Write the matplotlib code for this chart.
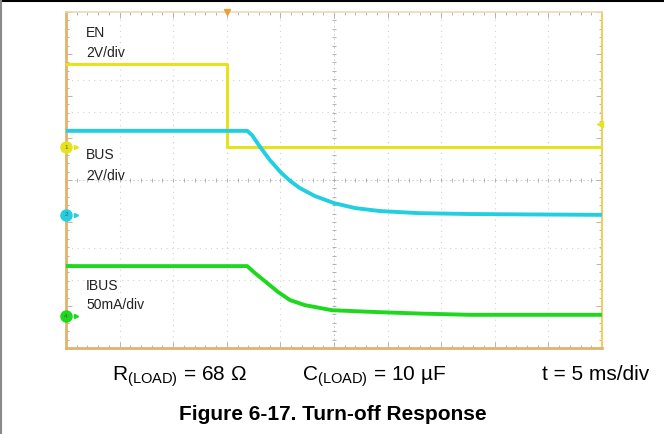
import numpy as np
import matplotlib
matplotlib.use("Agg")
import matplotlib.pyplot as plt
from matplotlib.lines import Line2D

plt.rcParams['font.family'] = ['Liberation Sans', 'DejaVu Sans']
plt.rcParams['mathtext.fontset'] = 'custom'
plt.rcParams['mathtext.rm'] = 'Liberation Sans'

#########################################################################
# data (time in ms, level in divisions, 0 = centre)

en_t = [0.0, 15.0, 15.0, 50.0]
en_v = [2.76, 2.76, 0.78, 0.78]

bus_t = [0.0, 16.9, 17.35, 18.1, 19.0, 20.0, 20.9, 21.8, 23.2, 25.0,
         27.0, 29.3, 33.0, 37.7, 43.3, 50.0]
bus_v = [1.17, 1.17, 1.07, 0.79, 0.48, 0.19, -0.02, -0.19, -0.38, -0.55,
         -0.67, -0.74, -0.79, -0.81, -0.82, -0.83]

ibus_t = [0.0, 16.9, 17.6, 18.75, 19.8, 20.9, 22.3, 24.8, 28.5, 33.0,
          37.7, 50.0]
ibus_v = [-2.05, -2.05, -2.21, -2.45, -2.67, -2.86, -2.98, -3.10, -3.14,
          -3.18, -3.21, -3.21]

# channel ground markers (divisions) and trigger settings
ch_names = ["1", "2", "4"]
ch_levels = [0.78, -0.83, -3.24]
trig_time = 15.0
trig_level = 1.33

# name, scale, baseline of name, baseline of scale (divisions)
labels = [("EN", "2V/div", 3.40, 2.93),
          ("BUS", "2V/div", 0.50, 0.0),
          ("IBUS", "50mA/div", -2.62, -3.07)]

c_en = "#e6e31c"
c_bus = "#22cfe0"
c_ibus = "#1ed81e"
c_frame = "#e2b36e"

#########################################################################

fig = plt.figure(figsize=(6.64, 4.34), dpi=100)
ax = fig.add_axes([66 / 664, 86 / 434, 536 / 664, 336 / 434])
ax.set_xlim(0, 50)
ax.set_ylim(-4, 4)

# dotted grid
for gx in np.arange(5, 50, 5):
    if gx != 25:
        ax.axvline(gx, color="#d2d2d2", lw=0.8, ls=(0, (1, 4)), zorder=1)
for gy in [-2.38, -1.62, 1.62, 2.38]:
    ax.axhline(gy, color="#d2d2d2", lw=0.8, ls=(0, (1, 4)), zorder=1)

# centre cross with small ticks
ax.axhline(0, color="#c8c8c8", lw=0.6, ls=(0, (2, 3)), zorder=1)
ax.axvline(25, color="#c8c8c8", lw=0.6, ls=(0, (2, 3)), zorder=1)
ax.plot(np.arange(1, 50), np.zeros(49), ls="none", marker="|", ms=3,
        color="#a8a8a8", mew=0.6, zorder=1)
ax.plot(np.full(39, 25.0), np.arange(-3.8, 4.0, 0.2), ls="none", marker="_",
        ms=3, color="#a8a8a8", mew=0.6, zorder=1)

# traces
ax.plot(en_t, en_v, color=c_en, lw=2.2, zorder=3)
ax.plot(bus_t, bus_v, color=c_bus, lw=2.8, zorder=4, solid_joinstyle="round")
ax.plot(ibus_t, ibus_v, color=c_ibus, lw=2.8, zorder=4, solid_joinstyle="round")

# channel labels
for name, scale, y_name, y_scale in labels:
    ax.text(1.87, y_name, name, fontsize=10, color="#222222", va="baseline", ha="left")
    ax.text(1.87, y_scale, scale, fontsize=10, color="#222222", va="baseline", ha="left")

# ground markers on the left edge
for ch, lvl, col in zip(ch_names, ch_levels, [c_en, c_bus, c_ibus]):
    ax.plot([0], [lvl], marker="o", ms=8, color=col, clip_on=False, zorder=6)
    ax.plot([0.9], [lvl], marker=">", ms=3, color=col, clip_on=False, zorder=6)
    ax.text(0, lvl, ch, fontsize=4.5, color="#555555", ha="center",
            va="center", zorder=7, clip_on=False)

# trigger markers
ax.plot([trig_time], [4.0], marker="v", ms=5, color="#e6a23c", clip_on=False, zorder=6)
ax.plot([49.8], [trig_level], marker="<", ms=5, color=c_en, clip_on=False, zorder=6)

# frame and ticks
ax.set_xticks(np.arange(0, 51, 5))
ax.set_xticks(np.arange(0, 51, 1), minor=True)
ax.set_yticks(np.arange(-4, 4.1, 1))
ax.set_yticks(np.arange(-4, 4.01, 0.2), minor=True)
ax.tick_params(which="both", direction="in", top=True, right=True,
               labelbottom=False, labelleft=False, color="#b0a898", width=0.6)
ax.tick_params(which="major", length=4)
ax.tick_params(which="minor", length=2.5)
ax.spines["left"].set_color(c_frame)
ax.spines["bottom"].set_color(c_frame)
ax.spines["left"].set_linewidth(2)
ax.spines["bottom"].set_linewidth(2)
ax.spines["top"].set_color("#efd9b4")
ax.spines["right"].set_color("#f0d060")
ax.spines["top"].set_linewidth(1.2)
ax.spines["right"].set_linewidth(1.5)

# conditions under the scope shot
fig.text(112 / 664, 1 - 380 / 434, r"R$_{\mathrm{(LOAD)}}$ = 68 Ω", fontsize=15,
         ha="left", va="baseline")
fig.text(302 / 664, 1 - 380 / 434, r"C$_{\mathrm{(LOAD)}}$ = 10 µF", fontsize=15,
         ha="left", va="baseline")
fig.text(542 / 664, 1 - 380 / 434, "t = 5 ms/div", fontsize=15,
         ha="left", va="baseline")
fig.text(333 / 664, 1 - 420 / 434, "Figure 6-17. Turn-off Response", fontsize=15,
         fontweight="bold", ha="center", va="baseline")

# page border bits
fig.add_artist(Line2D([0, 1], [0.998, 0.998], color="black", lw=1.5))
fig.add_artist(Line2D([0.0015, 0.0015], [0, 1], color="#8a8a8a", lw=1.5))

fig.savefig("out.png", dpi=100)
